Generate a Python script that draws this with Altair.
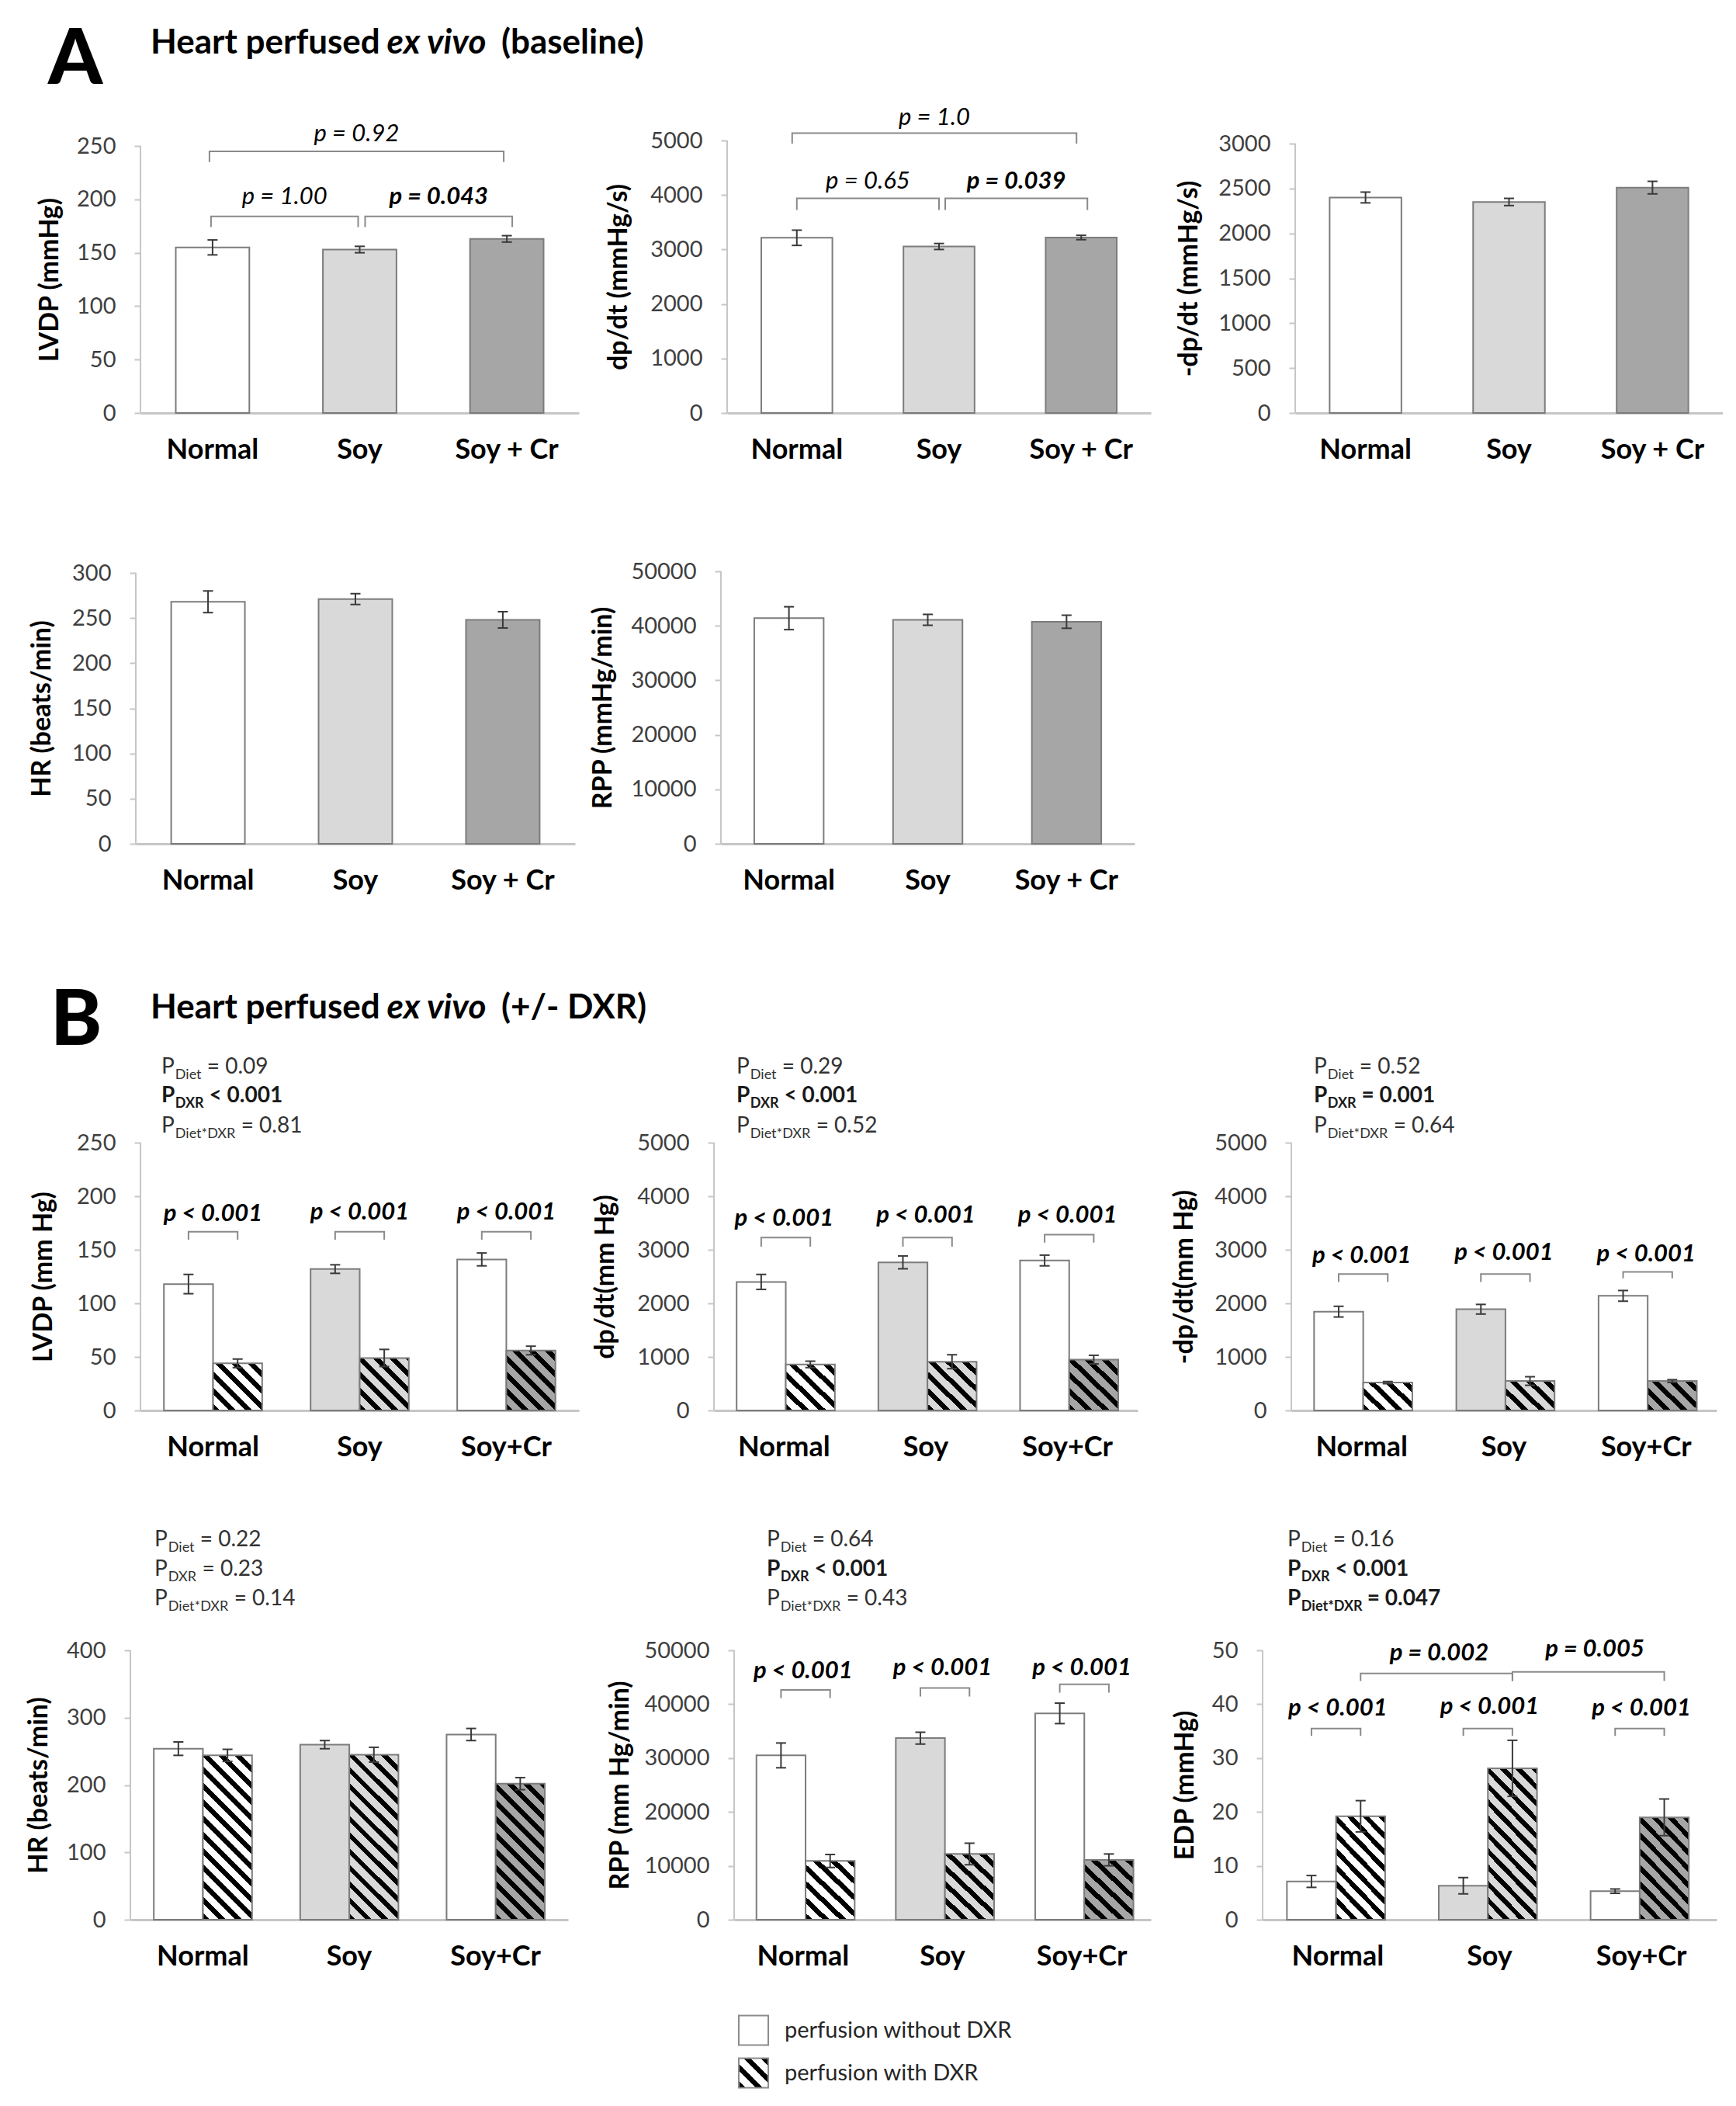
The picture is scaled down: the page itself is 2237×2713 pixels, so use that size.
import altair as alt
import pandas as pd

FONT = "Lato"

# ---------------- categories / labels ----------------
DIETS_A = ["Normal", "Soy", "Soy + Cr"]
DIETS_B = ["Normal", "Soy", "Soy+Cr"]
PERF = ["without", "with"]
LEGEND_LABELS = ["perfusion without DXR", "perfusion with DXR"]
DIET_FILLS = ["#ffffff", "#d9d9d9", "#a6a6a6"]
BAR_STROKE = "#7c7c7c"
ERR_COLOR = "#3a3a3a"
BRACKET_COLOR = "#8a8a8a"
AXIS_GRAY = "#c6c6c6"

# ---------------- A: baseline ----------------
A_LVDP_MEAN = [155, 153, 163]
A_LVDP_SEM = [7, 3, 3]
A_LVDP_TICKS = [0, 50, 100, 150, 200, 250]
A_DPDT_MEAN = [3215, 3055, 3220]
A_DPDT_SEM = [140, 55, 40]
A_DPDT_TICKS = [0, 1000, 2000, 3000, 4000, 5000]
A_NDPDT_MEAN = [2400, 2350, 2510]
A_NDPDT_SEM = [60, 40, 70]
A_NDPDT_TICKS = [0, 500, 1000, 1500, 2000, 2500, 3000]
A_HR_MEAN = [268, 271, 248]
A_HR_SEM = [12, 6, 9]
A_HR_TICKS = [0, 50, 100, 150, 200, 250, 300]
A_RPP_MEAN = [41400, 41100, 40750]
A_RPP_SEM = [2100, 1000, 1200]
A_RPP_TICKS = [0, 10000, 20000, 30000, 40000, 50000]

# brackets: (diet i, perf i, diet j, perf j, top, leg, label, bold, text y, shift px)
A_LVDP_BRACKETS = [
    (0, 0, 1, 0, 184, 174, "p = 1.00", False, 202, -2),
    (1, 0, 2, 0, 184, 174, "p = 0.043", True, 202, 7),
    (0, 0, 2, 0, 245, 235, "p = 0.92", False, 261, -4),
]
A_DPDT_BRACKETS = [
    (0, 0, 1, 0, 3940, 3725, "p = 0.65", False, 4250, 0),
    (1, 0, 2, 0, 3940, 3725, "p = 0.039", True, 4250, 8),
    (0, 0, 2, 0, 5134, 4943, "p = 1.0", False, 5420, -6),
]

# ---------------- B: +/- DXR ----------------
B_LVDP_WO = [118, 132, 141]
B_LVDP_WO_SEM = [9, 4, 6]
B_LVDP_W = [44, 49, 56]
B_LVDP_W_SEM = [4, 8, 4]
B_LVDP_TICKS = [0, 50, 100, 150, 200, 250]
B_DPDT_WO = [2400, 2765, 2800]
B_DPDT_WO_SEM = [140, 120, 100]
B_DPDT_W = [860, 910, 950]
B_DPDT_W_SEM = [60, 130, 80]
B_DPDT_TICKS = [0, 1000, 2000, 3000, 4000, 5000]
B_NDPDT_WO = [1845, 1890, 2140]
B_NDPDT_WO_SEM = [100, 90, 100]
B_NDPDT_W = [520, 550, 550]
B_NDPDT_W_SEM = [20, 80, 25]
B_NDPDT_TICKS = [0, 1000, 2000, 3000, 4000, 5000]
B_HR_WO = [254, 260, 275]
B_HR_WO_SEM = [10, 6, 9]
B_HR_W = [244, 245, 202]
B_HR_W_SEM = [9, 11, 9]
B_HR_TICKS = [0, 100, 200, 300, 400]
B_RPP_WO = [30500, 33700, 38300]
B_RPP_WO_SEM = [2300, 1100, 1900]
B_RPP_W = [10900, 12200, 11100]
B_RPP_W_SEM = [1200, 2000, 1100]
B_RPP_TICKS = [0, 10000, 20000, 30000, 40000, 50000]
B_EDP_WO = [7.1, 6.3, 5.3]
B_EDP_WO_SEM = [1.1, 1.5, 0.4]
B_EDP_W = [19.2, 28.1, 19.0]
B_EDP_W_SEM = [2.9, 5.2, 3.4]
B_EDP_TICKS = [0, 10, 20, 30, 40, 50]

PLT = "p < 0.001"
B_LVDP_BRACKETS = [(0, 0, 0, 1, 166.8, 159.4, PLT, True, 183, 0),
                   (1, 0, 1, 1, 166.8, 159.4, PLT, True, 185, 0),
                   (2, 0, 2, 1, 166.8, 159.4, PLT, True, 184.5, 0)]
B_DPDT_BRACKETS = [(0, 0, 0, 1, 3230, 3058, PLT, True, 3578, 0),
                   (1, 0, 1, 1, 3230, 3058, PLT, True, 3632, 0),
                   (2, 0, 2, 1, 3283, 3133, PLT, True, 3632, 0)]
B_NDPDT_BRACKETS = [(0, 0, 0, 1, 2548, 2398, PLT, True, 2880, 0),
                    (1, 0, 1, 1, 2548, 2398, PLT, True, 2935, 0),
                    (2, 0, 2, 1, 2586, 2468, PLT, True, 2908, 0)]
B_RPP_BRACKETS = [(0, 0, 0, 1, 42663, 41126, PLT, True, 46075, 0),
                  (1, 0, 1, 1, 43004, 41411, PLT, True, 46644, 0),
                  (2, 0, 2, 1, 43686, 42150, PLT, True, 46644, 0)]
B_EDP_BRACKETS = [(0, 0, 0, 1, 35.5, 34.1, PLT, True, 39.2, 0),
                  (1, 0, 1, 1, 35.5, 34.1, PLT, True, 39.5, 0),
                  (2, 0, 2, 1, 35.5, 34.1, PLT, True, 39.2, 0),
                  (0, 1, 1, 1, 45.7, 44.3, "p = 0.002", True, 49.4, 0),
                  (1, 1, 2, 1, 46.0, 44.3, "p = 0.005", True, 50.1, 5)]

# two-way ANOVA annotation lines: (subscript, rest, bold)
B_LVDP_ANOVA = [("Diet", "= 0.09", False), ("DXR", "< 0.001", True), ("Diet*DXR", "= 0.81", False)]
B_DPDT_ANOVA = [("Diet", "= 0.29", False), ("DXR", "< 0.001", True), ("Diet*DXR", "= 0.52", False)]
B_NDPDT_ANOVA = [("Diet", "= 0.52", False), ("DXR", "= 0.001", True), ("Diet*DXR", "= 0.64", False)]
B_HR_ANOVA = [("Diet", "= 0.22", False), ("DXR", "= 0.23", False), ("Diet*DXR", "= 0.14", False)]
B_RPP_ANOVA = [("Diet", "= 0.64", False), ("DXR", "< 0.001", True), ("Diet*DXR", "= 0.43", False)]
B_EDP_ANOVA = [("Diet", "= 0.16", False), ("DXR", "< 0.001", True), ("Diet*DXR", "= 0.047", True)]

TITLE_A = [("Heart perfused", False), ("ex vivo", True), ("(baseline)", False)]
TITLE_B = [("Heart perfused", False), ("ex vivo", True), ("(+/- DXR)", False)]

# ---------------- helpers ----------------
LATO_W = {' ': 0.19, 'a': 0.51, 'b': 0.57, 'c': 0.47, 'd': 0.57, 'e': 0.53, 'f': 0.33, 'g': 0.51,
          'h': 0.57, 'i': 0.24, 'j': 0.24, 'k': 0.51, 'l': 0.24, 'm': 0.86, 'n': 0.57, 'o': 0.57,
          'p': 0.57, 'q': 0.57, 'r': 0.38, 's': 0.43, 't': 0.35, 'u': 0.57, 'v': 0.51, 'w': 0.78,
          'x': 0.50, 'y': 0.51, 'z': 0.45, 'A': 0.68, 'B': 0.64, 'C': 0.68, 'D': 0.75, 'E': 0.55,
          'H': 0.75, 'P': 0.60, 'R': 0.62, 'X': 0.65, '+': 0.58, '-': 0.35, '/': 0.38, '(': 0.32,
          ')': 0.32, '*': 0.42, '=': 0.58, '<': 0.58, '.': 0.22}


def text_w(s, size):
    return sum(0.58 if c.isdigit() else LATO_W.get(c, 0.55) for c in s) * size


ONE = pd.DataFrame({"k": [0]})
NOVIEW = alt.ViewBackground(stroke="transparent", strokeWidth=0)


def txt(s, x, y, size, bold=False, italic=False, color="#000000", weight=None,
        align="left", baseline="alphabetic"):
    fw = weight if weight is not None else ("bold" if bold else "normal")
    return alt.Chart(ONE).mark_text(
        align=align, baseline=baseline, font=FONT, fontSize=size, fontWeight=fw,
        fontStyle="italic" if italic else "normal", color=color
    ).encode(x=alt.value(x), y=alt.value(y), text=alt.value(s))


def hatch(base, w, h, period=21.0, frac=0.42):
    L = w + h
    den = w * w + h * h
    gx = w * L / den
    gy = -h * L / den
    dt = period / L
    stops = []
    i = 0
    while i * dt < 1 - 1e-9:
        a = i * dt
        b = min(1.0, a + frac * dt)
        c = min(1.0, a + dt)
        stops += [(a, "#000000"), (b, "#000000"), (b, base), (c, base)]
        i += 1
    return alt.LinearGradient(
        gradient="linear", x1=0, y1=1, x2=round(gx, 5), y2=round(1 + gy, 5),
        stops=[alt.GradientStop(offset=round(o, 5), color=c) for o, c in stops])


def spacer(w, h=2, extra=()):
    base = alt.Chart(ONE).mark_text(text=" ", fontSize=1, align="left", baseline="top").encode(
        x=alt.value(1), y=alt.value(1))
    return alt.layer(base, *extra).properties(width=w, height=h, view=NOVIEW)


def header(w, h, letter, lx, lby, parts, tx, tby, size=44):
    extra = [txt(letter, lx, lby, 100, weight=900)]
    x = tx
    for s, it in parts:
        extra.append(txt(s, x, tby, size, bold=True, italic=it))
        x += text_w(s, size) + 0.3 * size
    return spacer(w, h, extra)


def make_panel(p, g):
    two = p["two"]
    diets = p["diets"]
    W, H = g["W"], g["H"]
    top = p["ticks"][-1]
    ymax = top * H / g["toppx"]
    pin, pout = (0.33, 0.16) if two else (0.5, 0.24)
    step = W / (3 - pin + 2 * pout)
    bw = step * (1 - pin)

    def cx(i, k):
        s = pout * step + i * step
        return s + (bw / 4 + k * bw / 2 if two else bw / 2)

    rows = []
    for i, d in enumerate(diets):
        rows.append(dict(diet=d, perf="without", mean=p["wo"][i],
                         lo=p["wo"][i] - p["wo_sem"][i], hi=p["wo"][i] + p["wo_sem"][i]))
        if two:
            rows.append(dict(diet=d, perf="with", mean=p["w"][i],
                             lo=p["w"][i] - p["w_sem"][i], hi=p["w"][i] + p["w_sem"][i]))
    df = pd.DataFrame(rows)

    X = alt.X("diet:N", sort=diets,
              scale=alt.Scale(domain=diets, paddingInner=pin, paddingOuter=pout),
              axis=alt.Axis(title=None, labelAngle=0, ticks=False, tickSize=0,
                            domainColor=AXIS_GRAY, domainWidth=3, labelFont=FONT,
                            labelFontSize=36, labelFontWeight="bold", labelColor="#000000",
                            labelPadding=30))
    XO = alt.XOffset("perf:N", sort=PERF,
                     scale=alt.Scale(domain=PERF, paddingInner=0, paddingOuter=0))
    YS = alt.Scale(domain=[0, ymax], nice=False, zero=True)

    def enc(**kw):
        e = dict(x=X)
        if two:
            e["xOffset"] = XO
        e.update(kw)
        return e

    yaxis = alt.Axis(values=p["ticks"], format="d", title=p["ytitle"], domain=False, grid=False,
                     ticks=True, tickSize=8, tickWidth=2, tickColor=AXIS_GRAY,
                     labelFont=FONT, labelFontSize=29, labelColor="#3f3f3f", labelPadding=24,
                     labelFlush=False, labelOverlap=False,
                     titleFont=FONT, titleFontSize=34, titleFontWeight="bold",
                     titleColor="#000000", titleX=g["tx"], titleY=H - (top / ymax * H) / 2,
                     titleAngle=270, titleAlign="center", titleBaseline="middle")
    layers = [alt.Chart(pd.DataFrame({"lo": [0], "hi": [top]})).mark_rule(
        color=AXIS_GRAY, strokeWidth=2).encode(
        x=alt.value(0), y=alt.Y("lo:Q", scale=YS, axis=yaxis), y2="hi:Q")]

    layers.append(alt.Chart(df[df.perf == "without"]).mark_bar(
        stroke=BAR_STROKE, strokeWidth=2).encode(**enc(
            y=alt.Y("mean:Q", scale=YS),
            fill=alt.Fill("diet:N", scale=alt.Scale(domain=diets, range=DIET_FILLS), legend=None))))
    if two:
        for i, d in enumerate(diets):
            h = p["w"][i] / ymax * H
            layers.append(alt.Chart(df[(df.diet == d) & (df.perf == "with")]).mark_bar(
                fill=hatch(DIET_FILLS[i], bw / 2, h), stroke=BAR_STROKE, strokeWidth=2
            ).encode(**enc(y=alt.Y("mean:Q", scale=YS))))

    layers.append(alt.Chart(df).mark_rule(color=ERR_COLOR, strokeWidth=2).encode(
        **enc(y=alt.Y("lo:Q", scale=YS), y2="hi:Q")))
    for fld in ["lo", "hi"]:
        layers.append(alt.Chart(df).mark_tick(
            color=ERR_COLOR, thickness=2, size=13, opacity=1, orient="horizontal"
        ).encode(**enc(y=alt.Y(f"{fld}:Q", scale=YS))))

    for (i, ki, j, kj, ytop, yleg, label, bold, ty, shift) in p["brackets"]:
        br = pd.DataFrame([
            dict(diet=diets[i], perf=PERF[ki], v=yleg, o=0),
            dict(diet=diets[i], perf=PERF[ki], v=ytop, o=1),
            dict(diet=diets[j], perf=PERF[kj], v=ytop, o=2),
            dict(diet=diets[j], perf=PERF[kj], v=yleg, o=3)])
        layers.append(alt.Chart(br).mark_line(
            color=BRACKET_COLOR, strokeWidth=2, xOffset=shift
        ).encode(**enc(y=alt.Y("v:Q", scale=YS), order="o:Q")))
        mid = (cx(i, ki) + cx(j, kj)) / 2 + shift
        dx = mid - (pout * step + i * step + bw / 2)
        layers.append(alt.Chart(pd.DataFrame({"diet": [diets[i]], "v": [ty]})).mark_text(
            font=FONT, fontSize=31, fontStyle="italic", fontWeight="bold" if bold else "normal",
            align="center", baseline="middle", dx=dx, color="#000000"
        ).encode(x=X, y=alt.Y("v:Q", scale=YS), text=alt.value(label)))

    for (sub, rest, bold), ay in zip(p["annots"], g.get("ay", [])):
        ax = g["ax"]
        col = "#1a1a1a" if bold else "#333333"
        wP = text_w("P", 28)
        wS = text_w(sub, 18)
        layers.append(txt("P", ax, ay, 28, bold=bold, color=col))
        layers.append(txt(sub, ax + wP + 1, ay + 7, 18, bold=bold, color=col))
        layers.append(txt(rest, ax + wP + 3 + wS + text_w(" ", 28), ay, 28, bold=bold, color=col))

    return alt.layer(*layers).properties(width=W, height=H, view=NOVIEW)


def bpanel(diets, wo, wos, w, ws, ticks, title, br, an):
    return dict(diets=diets, two=True, wo=wo, wo_sem=wos, w=w, w_sem=ws, ticks=ticks,
                ytitle=title, brackets=br, annots=an)


def apanel(wo, wos, ticks, title, br):
    return dict(diets=DIETS_A, two=False, wo=wo, wo_sem=wos, ticks=ticks, ytitle=title,
                brackets=br, annots=[])


# ---------------- layout (pixel geometry) ----------------
B1_AY = [211, 248, 287]
B2_AY = [84, 122, 160]

rowA1 = alt.hconcat(
    header(173, 605, "A", 54, 96, TITLE_A, 186, 57),
    make_panel(apanel(A_LVDP_MEAN, A_LVDP_SEM, A_LVDP_TICKS, "LVDP (mmHg)", A_LVDP_BRACKETS),
               dict(W=565, H=520, toppx=344, tx=-117)),
    spacer(191),
    make_panel(apanel(A_DPDT_MEAN, A_DPDT_SEM, A_DPDT_TICKS, "dp/dt (mmHg/s)", A_DPDT_BRACKETS),
               dict(W=546, H=520, toppx=351, tx=-140)),
    spacer(186),
    make_panel(apanel(A_NDPDT_MEAN, A_NDPDT_SEM, A_NDPDT_TICKS, "-dp/dt (mmHg/s)", []),
               dict(W=551, H=520, toppx=347, tx=-137)),
    spacing=0, bounds="flush")

rowA2 = alt.hconcat(
    spacer(167, 555),
    make_panel(apanel(A_HR_MEAN, A_HR_SEM, A_HR_TICKS, "HR (beats/min)", []),
               dict(W=566, H=470, toppx=349, tx=-121)),
    spacer(188),
    make_panel(apanel(A_RPP_MEAN, A_RPP_SEM, A_RPP_TICKS, "RPP (mmHg/min)", []),
               dict(W=533, H=470, toppx=351, tx=-152)),
    spacing=0, bounds="flush")

rowB1 = alt.hconcat(
    header(173, 736, "B", 57, 174, TITLE_B, 186, 140),
    make_panel(bpanel(DIETS_B, B_LVDP_WO, B_LVDP_WO_SEM, B_LVDP_W, B_LVDP_W_SEM, B_LVDP_TICKS,
                      "LVDP (mm Hg)", B_LVDP_BRACKETS, B_LVDP_ANOVA),
               dict(W=565, H=645, toppx=345, tx=-125, ax=27, ay=B1_AY)),
    spacer(174),
    make_panel(bpanel(DIETS_B, B_DPDT_WO, B_DPDT_WO_SEM, B_DPDT_W, B_DPDT_W_SEM, B_DPDT_TICKS,
                      "dp/dt(mm Hg)", B_DPDT_BRACKETS, B_DPDT_ANOVA),
               dict(W=546, H=645, toppx=345, tx=-140, ax=29, ay=B1_AY)),
    spacer(198),
    make_panel(bpanel(DIETS_B, B_NDPDT_WO, B_NDPDT_WO_SEM, B_NDPDT_W, B_NDPDT_W_SEM, B_NDPDT_TICKS,
                      "-dp/dt(mm Hg)", B_NDPDT_BRACKETS, B_NDPDT_ANOVA),
               dict(W=548, H=645, toppx=345, tx=-138, ax=29, ay=B1_AY)),
    spacing=0, bounds="flush")

rowB2 = alt.hconcat(
    spacer(160, 680),
    make_panel(bpanel(DIETS_B, B_HR_WO, B_HR_WO_SEM, B_HR_W, B_HR_W_SEM, B_HR_TICKS,
                      "HR (beats/min)", [], B_HR_ANOVA),
               dict(W=564, H=565, toppx=347, tx=-118, ax=31, ay=B2_AY)),
    spacer(214),
    make_panel(bpanel(DIETS_B, B_RPP_WO, B_RPP_WO_SEM, B_RPP_W, B_RPP_W_SEM, B_RPP_TICKS,
                      "RPP (mm Hg/min)", B_RPP_BRACKETS, B_RPP_ANOVA),
               dict(W=537, H=565, toppx=347, tx=-147, ax=42, ay=B2_AY)),
    spacer(144),
    make_panel(bpanel(DIETS_B, B_EDP_WO, B_EDP_WO_SEM, B_EDP_W, B_EDP_W_SEM, B_EDP_TICKS,
                      "EDP (mmHg)", B_EDP_BRACKETS, B_EDP_ANOVA),
               dict(W=585, H=565, toppx=347, tx=-100, ax=32, ay=B2_AY)),
    spacing=0, bounds="flush")

# ---------------- legend ----------------
leg_df = pd.DataFrame({"label": LEGEND_LABELS, "kind": PERF})
LY = alt.Y("label:N", sort=LEGEND_LABELS,
           scale=alt.Scale(domain=LEGEND_LABELS, paddingInner=0, paddingOuter=0), axis=None)
legend = alt.layer(
    alt.Chart(leg_df[leg_df.kind == "without"]).mark_square(
        size=1444, fill="#ffffff", stroke="#8c8c8c", strokeWidth=2, opacity=1
    ).encode(x=alt.value(21), y=LY),
    alt.Chart(leg_df[leg_df.kind == "with"]).mark_square(
        size=1444, fill=hatch("#ffffff", 38, 38, period=22), stroke="#8c8c8c", strokeWidth=2,
        opacity=1
    ).encode(x=alt.value(21), y=LY),
    alt.Chart(leg_df).mark_text(
        align="left", baseline="middle", font=FONT, fontSize=29, color="#262626"
    ).encode(x=alt.value(61), y=LY, text="label:N"),
).properties(width=420, height=110, view=NOVIEW)

rowL = alt.hconcat(spacer(942, 110), legend, spacing=0, bounds="flush")

chart = alt.vconcat(rowA1, rowA2, rowB1, rowB2, rowL, spacing=0).properties(
    padding={"top": 4, "left": 0, "right": 0, "bottom": 0}, background="#ffffff"
).configure(
    font=FONT,
    view=alt.ViewConfig(stroke="transparent", strokeWidth=0),
    style={"cell": {"stroke": "transparent", "strokeWidth": 0}},
)

chart.save("out.html", embed_options={"renderer": "svg", "actions": False})
